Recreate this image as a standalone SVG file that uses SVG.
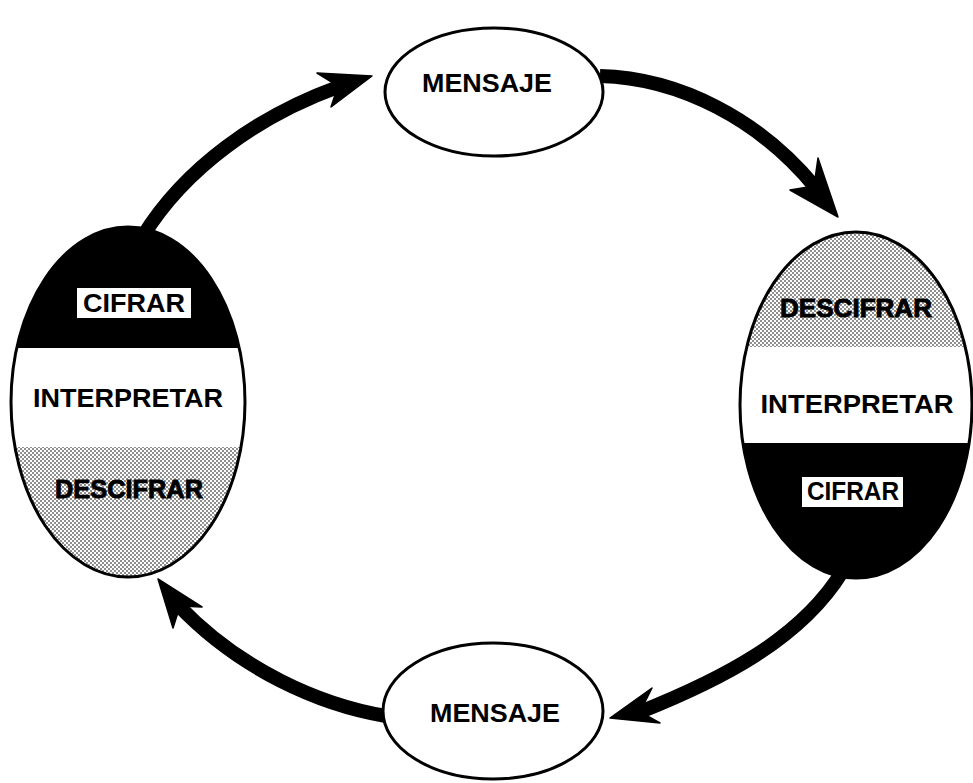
<svg xmlns="http://www.w3.org/2000/svg" width="973" height="783" viewBox="0 0 973 783">
  <style>
    .lbl { font-family: "Liberation Sans", Arial, sans-serif; font-weight: bold; font-size: 26px; text-anchor: middle; fill: #000; }
    .heavy { stroke: #000; stroke-width: 0.9px; }
    .outline { fill: none; stroke: #000; stroke-width: 3px; }
    .shaft { fill: none; stroke: #000; stroke-width: 14px; stroke-linecap: butt; }
    .head { fill: #000; stroke: #000; stroke-width: 1.5px; stroke-linejoin: round; }
  </style>
  <defs>
    <!-- halftone screen for the shaded band -->
    <pattern id="halftone" width="4" height="4" patternUnits="userSpaceOnUse">
      <rect width="4" height="4" fill="#fff"/>
      <circle cx="1" cy="1" r="0.8" fill="#000"/>
      <circle cx="3" cy="3" r="0.8" fill="#000"/>
    </pattern>
    <clipPath id="clipLeft"><ellipse cx="128" cy="402" rx="117" ry="175"/></clipPath>
    <clipPath id="clipRight"><ellipse cx="856" cy="405" rx="116" ry="173"/></clipPath>
  </defs>
  <rect width="973" height="783" fill="#fff"/>

  <!-- cycle arrows -->
  <g id="connectors">
    <path class="shaft" d="M143 236 C185 168 258 116 338 87"/>
    <polygon class="head" points="372,76 317,73 338,86 331,107"/>

    <path class="shaft" d="M600 76 C680 78 760 120 815 187"/>
    <polygon class="head" points="838,217 818,158 814,186 790,190"/>

    <path class="shaft" d="M842 572 C800 640 720 680 640 712"/>
    <polygon class="head" points="610,718 652,688 640,712 660,723"/>

    <path class="shaft" d="M386 716 C320 705 240 670 178 605"/>
    <polygon class="head" points="158,579 202,607 180,606 173,628"/>
  </g>

  <!-- top message -->
  <g id="mensaje-top">
    <ellipse cx="494" cy="92" rx="109" ry="64" fill="#fff" stroke="#000" stroke-width="3"/>
    <text class="lbl" x="487" y="92" textLength="130" lengthAdjust="spacingAndGlyphs">MENSAJE</text>
  </g>

  <!-- bottom message -->
  <g id="mensaje-bottom">
    <ellipse cx="493" cy="711" rx="110" ry="68" fill="#fff" stroke="#000" stroke-width="3"/>
    <text class="lbl" x="495" y="722" textLength="130" lengthAdjust="spacingAndGlyphs">MENSAJE</text>
  </g>

  <!-- left participant: cifrar / interpretar / descifrar -->
  <g id="participant-left">
    <g clip-path="url(#clipLeft)">
      <rect x="0" y="220" width="260" height="128" fill="#000"/>
      <rect x="0" y="348" width="260" height="99" fill="#fff"/>
      <rect x="0" y="447" width="260" height="140" fill="url(#halftone)"/>
    </g>
    <ellipse class="outline" cx="128" cy="402" rx="117" ry="175"/>
    <rect x="77" y="288" width="114" height="30" fill="#fff"/>
    <text class="lbl" x="134" y="312" textLength="102" lengthAdjust="spacingAndGlyphs">CIFRAR</text>
    <text class="lbl" x="128" y="407" textLength="190" lengthAdjust="spacingAndGlyphs">INTERPRETAR</text>
    <text class="lbl heavy" x="129" y="498" textLength="148" lengthAdjust="spacingAndGlyphs">DESCIFRAR</text>
  </g>

  <!-- right participant: descifrar / interpretar / cifrar -->
  <g id="participant-right">
    <g clip-path="url(#clipRight)">
      <rect x="730" y="225" width="250" height="122" fill="url(#halftone)"/>
      <rect x="730" y="347" width="250" height="96" fill="#fff"/>
      <rect x="730" y="443" width="250" height="145" fill="#000"/>
    </g>
    <ellipse class="outline" cx="856" cy="405" rx="116" ry="173"/>
    <text class="lbl heavy" x="856" y="317" textLength="152" lengthAdjust="spacingAndGlyphs">DESCIFRAR</text>
    <text class="lbl" x="857" y="413" textLength="193" lengthAdjust="spacingAndGlyphs">INTERPRETAR</text>
    <rect x="802" y="477" width="101" height="30" fill="#fff"/>
    <text class="lbl" x="853" y="500" textLength="92" lengthAdjust="spacingAndGlyphs">CIFRAR</text>
  </g>
</svg>
